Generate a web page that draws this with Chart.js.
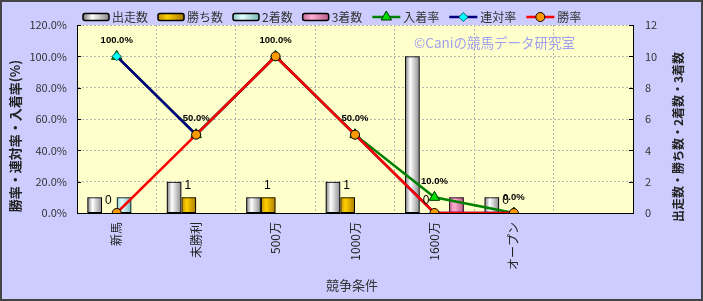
<!DOCTYPE html>
<html lang="ja">
<head>
<meta charset="utf-8">
<title>競争条件別成績</title>
<script src="https://cdn.jsdelivr.net/npm/chart.js@4.4.1/dist/chart.umd.min.js"></script>
<style>
  html, body { margin: 0; padding: 0; background: #ccccff; }
  #wrap { width: 703px; height: 301px; }
</style>
</head>
<body>
<div id="wrap"><canvas id="chart" width="703" height="301"></canvas></div>
<script>
// DATA
const categories = ["新馬", "未勝利", "500万", "1000万", "1600万", "オープン", ""];
const starts = [1, 2, 1, 2, 10, 1, null];      // 出走数
const wins = [0, 1, 1, 1, 0, 0, null];         // 勝ち数
const seconds = [1, 0, 0, 0, 0, 0, null];      // 2着数
const thirds = [0, 0, 0, 0, 1, 0, null];       // 3着数
const placeRate = [100, 50, 100, 50, 10, 0, null];  // 入着率
const rentaiRate = [100, 50, 100, 50, 0, 0, null];  // 連対率
const winRate = [0, 50, 100, 50, 0, 0, null];       // 勝率
const rateTicks = [0, 20, 40, 60, 80, 100, 120];
const countTicks = [0, 2, 4, 6, 8, 10, 12];

const leftTitle = "勝率・連対率・入着率(%)";
const rightTitle = "出走数・勝ち数・2着数・3着数";
const xTitle = "競争条件";
const watermark = "©Caniの競馬データ研究室";

const JP = "'Noto Sans CJK JP', 'Noto Sans', sans-serif";
Chart.defaults.font.family = JP;
Chart.defaults.font.size = 11;

function hGradient(ctx, left, width, stops) {
  const g = ctx.createLinearGradient(left, 0, left + width, 0);
  g.addColorStop(0, stops[0]);
  g.addColorStop(0.35, stops[1]);
  g.addColorStop(1, stops[2]);
  return g;
}

function barSet(label, data, stops) {
  return {
    type: "bar",
    label: label,
    data: data,
    yAxisID: "y2",
    order: 10,
    backgroundColor: "transparent",
    borderColor: "#000",
    borderWidth: 1,
    borderSkipped: false,
    categoryPercentage: 0.74,
    barPercentage: 1,
    stops: stops,
  };
}

function lineSet(label, data, color, style, fill, stroke, radius, order) {
  return {
    type: "line",
    label: label,
    data: data,
    yAxisID: "y",
    order: order,
    borderColor: color,
    borderWidth: 2.5,
    pointStyle: style,
    pointRadius: radius,
    pointBackgroundColor: fill,
    pointBorderColor: stroke,
    pointBorderWidth: 1,
    fill: false,
    tension: 0,
  };
}

const decor = {
  id: "decor",
  beforeDraw(chart) {
    const { ctx, chartArea: a, width, height } = chart;
    ctx.save();
    ctx.fillStyle = "#ccccff";
    ctx.fillRect(0, 0, width, height);
    ctx.fillStyle = "#ffffcc";
    ctx.fillRect(a.left, a.top, a.right - a.left, a.bottom - a.top);
    ctx.restore();
  },
  beforeDatasetsDraw(chart) {
    const { ctx, chartArea: a } = chart;
    ctx.save();
    ctx.font = "13.5px " + JP;
    ctx.fillStyle = "#a0a0f0";
    ctx.textAlign = "right";
    ctx.textBaseline = "middle";
    ctx.fillText(watermark, a.right - 58, a.top + 18);
    ctx.restore();
  },
  beforeDatasetDraw(chart, args) {
    const meta = args.meta;
    if (meta.type !== "bar") return;
    const ds = chart.data.datasets[args.index];
    const ctx = chart.ctx;
    ctx.save();
    meta.data.forEach((el) => {
      const p = el.getProps(["x", "y", "base", "width"], true);
      if (p.y == null || isNaN(p.y)) return;
      const left = p.x - p.width / 2;
      const top = Math.min(p.y, p.base);
      const h = Math.abs(p.base - p.y);
      if (h <= 0) return;
      ctx.fillStyle = hGradient(ctx, left, p.width, ds.stops);
      ctx.fillRect(left, top, p.width, h);
    });
    ctx.restore();
  },
  afterDatasetsDraw(chart) {
    const ctx = chart.ctx;
    ctx.save();
    ctx.fillStyle = "#000";
    ctx.textAlign = "center";
    ctx.textBaseline = "middle";
    // 勝ち数 labels
    const winMeta = chart.getDatasetMeta(1);
    ctx.font = "12px 'Liberation Sans', Arial, sans-serif";
    winMeta.data.forEach((el, i) => {
      if (wins[i] == null) return;
      ctx.fillText(String(wins[i]), el.x - 1, el.y - 12);
    });
    // 入着率 labels
    const placeMeta = chart.getDatasetMeta(4);
    ctx.font = "bold 9.5px 'Liberation Sans', Arial, sans-serif";
    placeMeta.data.forEach((el, i) => {
      if (placeRate[i] == null) return;
      ctx.fillText(placeRate[i].toFixed(1) + "%", el.x, el.y - 16);
    });
    ctx.restore();
  },
  afterDraw(chart) {
    const { ctx, chartArea: a, width, height } = chart;
    const y = chart.scales.y, y2 = chart.scales.y2;
    ctx.save();
    // small inward ticks
    ctx.strokeStyle = "#000";
    ctx.lineWidth = 1;
    ctx.beginPath();
    rateTicks.forEach((v) => {
      const py = Math.round(y.getPixelForValue(v)) + 0.5;
      ctx.moveTo(a.left, py);
      ctx.lineTo(a.left + 4, py);
    });
    countTicks.forEach((v) => {
      const py = Math.round(y2.getPixelForValue(v)) + 0.5;
      ctx.moveTo(a.right, py);
      ctx.lineTo(a.right - 4, py);
    });
    ctx.stroke();

    // legend
    let lx = a.left + 6;
    const ly = 17;
    ctx.font = "12px " + JP;
    ctx.textBaseline = "middle";
    ctx.textAlign = "left";
    chart.data.datasets.forEach((ds) => {
      if (ds.type === "bar") {
        ctx.fillStyle = hGradient(ctx, lx, 26, ds.stops);
        ctx.beginPath();
        ctx.roundRect(lx, ly - 3.5, 26, 7, 2);
        ctx.fill();
        ctx.lineWidth = 1.5;
        ctx.strokeStyle = "#000";
        ctx.stroke();
        lx += 29;
      } else {
        ctx.strokeStyle = ds.borderColor;
        ctx.lineWidth = 2.5;
        ctx.beginPath();
        ctx.moveTo(lx, ly);
        ctx.lineTo(lx + 28, ly);
        ctx.stroke();
        ctx.fillStyle = ds.pointBackgroundColor;
        ctx.strokeStyle = ds.pointBorderColor;
        ctx.lineWidth = 1;
        Chart.helpers.drawPoint(ctx, { pointStyle: ds.pointStyle, radius: ds.pointRadius, rotation: 0, borderWidth: 1 }, lx + 14, ly);
        lx += 31;
      }
      ctx.fillStyle = "#333";
      ctx.fillText(ds.label, lx, ly);
      lx += ctx.measureText(ds.label).width + 10;
    });

    // axis titles
    ctx.fillStyle = "#222";
    ctx.textAlign = "center";
    ctx.font = "bold 13px " + JP;
    ctx.save();
    ctx.translate(15, 136);
    ctx.rotate(-Math.PI / 2);
    ctx.fillText(leftTitle, 0, 0);
    ctx.restore();
    ctx.font = "bold 12px " + JP;
    ctx.save();
    ctx.translate(678, 137);
    ctx.rotate(-Math.PI / 2);
    ctx.fillText(rightTitle, 0, 0);
    ctx.restore();
    ctx.font = "13px " + JP;
    ctx.fillStyle = "#333";
    ctx.fillText(xTitle, (a.left + a.right) / 2 - 3, 285);

    // outer frame
    ctx.strokeStyle = "#444";
    ctx.lineWidth = 2;
    ctx.strokeRect(1, 1, width - 2, height - 2);
    ctx.restore();
  },
};

new Chart(document.getElementById("chart"), {
  type: "bar",
  data: {
    labels: categories,
    datasets: [
      barSet("出走数", starts, ["#777777", "#ffffff", "#8a8a8a"]),
      barSet("勝ち数", wins, ["#c08f00", "#ffd000", "#a87a00"]),
      barSet("2着数", seconds, ["#8cc8c8", "#e4ffff", "#7ab8b8"]),
      barSet("3着数", thirds, ["#c8689a", "#ffaed0", "#b85a8a"]),
      lineSet("入着率", placeRate, "#008000", "triangle", "#00dd00", "#003300", 6, 3),
      lineSet("連対率", rentaiRate, "#000080", "rectRot", "#00ffff", "#006666", 4.5, 2),
      lineSet("勝率", winRate, "#ff0000", "circle", "#ff9900", "#000000", 4.5, 1),
    ],
  },
  options: {
    responsive: false,
    animation: false,
    devicePixelRatio: 1,
    events: [],
    layout: { padding: { top: 25, left: 0, right: 0, bottom: 0 } },
    plugins: {
      legend: { display: false },
      tooltip: { enabled: false },
      title: { display: false },
    },
    scales: {
      x: {
        offset: true,
        grid: { color: "#b4b4b4", drawTicks: false, offset: true },
        border: { color: "#000", width: 1, dash: [2, 2] },
        ticks: { minRotation: 90, maxRotation: 90, autoSkip: false, padding: 9, color: "#222", font: { size: 12 } },
        afterFit: (s) => { s.height = 88; },
      },
      y: {
        position: "left",
        min: 0,
        max: 120,
        afterBuildTicks: (s) => { s.ticks = rateTicks.map((v) => ({ value: v })); },
        ticks: { padding: 10, color: "#333", callback: (v) => Number(v).toFixed(1) + "%" },
        grid: { color: "#b4b4b4", drawTicks: false },
        border: { color: "#000", width: 1, dash: [2, 2] },
        afterFit: (s) => { s.width = 77; },
      },
      y2: {
        position: "right",
        min: 0,
        max: 12,
        afterBuildTicks: (s) => { s.ticks = countTicks.map((v) => ({ value: v })); },
        ticks: { padding: 12, color: "#333" },
        grid: { display: false, drawTicks: false },
        border: { color: "#000", width: 1 },
        afterFit: (s) => { s.width = 70; },
      },
    },
  },
  plugins: [decor],
});
</script>
</body>
</html>
